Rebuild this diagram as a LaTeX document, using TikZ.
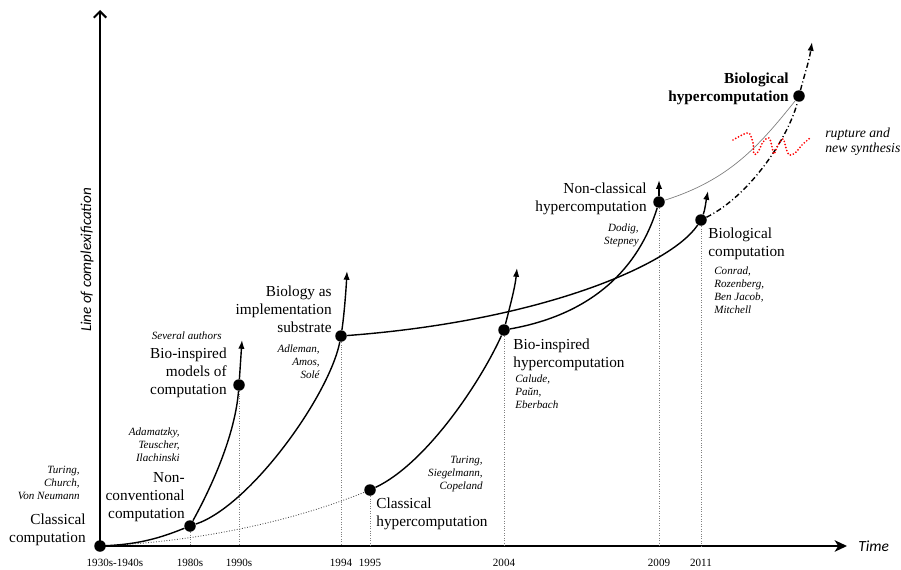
\documentclass[tikz,border=0pt]{standalone}
\usepackage{fontspec}
\setmainfont{Liberation Serif}
\newfontfamily\axisfont{Carlito}
\usetikzlibrary{positioning,arrows.meta}
\tikzset{stagedot/.style={circle,fill=black,inner sep=0pt,minimum size=0.23cm},
 stage/.style={inner sep=0pt,font=\fontsize{8.7}{10.2}\selectfont},
 who/.style={inner sep=0pt,font=\fontsize{6.3}{7.4}\selectfont\itshape},
 year/.style={inner sep=0pt,font=\fontsize{6.3}{7.4}\selectfont},
 path line/.style={line width=0.8pt},
 branch/.style={path line,-{Latex[length=5pt,width=3.6pt]}},
 year line/.style={gray,densely dotted,line width=0.4pt},
 axis/.style={line width=1.2pt}}

\begin{document}
\begin{tikzpicture}[x=0.02cm,y=0.02cm]
\useasboundingbox (0,0) rectangle (901,569);

% axes
\coordinate (O) at (100,23);
\coordinate (xend) at (847,23);
\coordinate (yend) at (100,559);
\draw[axis,-{Stealth[length=7pt,width=6.5pt,inset=2pt]}] (O) -- (xend);
\draw[axis,-{Straight Barb[length=3.5pt,width=7pt]}] (O) -- (yend);
\node[right=2.2mm of xend,inner sep=0pt,font=\axisfont\fontsize{8.8}{10}\selectfont\itshape] (time) {Time};
\node[rotate=90,inner sep=0pt,font=\axisfont\fontsize{8.6}{10}\selectfont\itshape] (cplx) at (87,309) {Line of complexification};

% stages
\node[stagedot] (cc) at (100,23) {};
\node[stagedot] (nc) at (190,43) {};
\node[stagedot] (bm) at (239,184) {};
\node[stagedot] (bi) at (341,233) {};
\node[stagedot] (ch) at (370,79) {};
\node[stagedot] (bh) at (504,239) {};
\node[stagedot] (nh) at (659,367) {};
\node[stagedot] (bc) at (701,349) {};
\node[stagedot] (BH) at (799,473) {};

\coordinate (bmtip) at (242,229);
\coordinate (bitip) at (347,298);
\coordinate (bhtip) at (517,301);
\coordinate (nhtip) at (659,389);
\coordinate (bctip) at (708,378);
\coordinate (BHtip) at (812,527);

% feet on the time axis
\coordinate (t80) at (nc |- O);
\coordinate (t90) at (bm |- O);
\coordinate (t94) at (bi |- O);
\coordinate (t95) at (ch |- O);
\coordinate (t04) at (bh |- O);
\coordinate (t09) at (nh |- O);
\coordinate (t11) at (bc |- O);
\draw[year line] (nc) -- (t80);
\draw[year line] (bm) -- (t90);
\draw[year line] (bi) -- (t94);
\draw[year line] (ch) -- (t95);
\draw[year line] (bh) -- (t04);
\draw[year line] (nh) -- (t09);
\draw[year line] (bc) -- (t11);

\node[year,below=2.6mm of O,xshift=3mm] (y30) {1930s-1940s};
\node[year,below=2.6mm of t80] (y80) {1980s};
\node[year,below=2.6mm of t90] (y90) {1990s};
\node[year,below=2.6mm of t94] (y94) {1994};
\node[year,below=2.6mm of t95] (y95) {1995};
\node[year,below=2.6mm of t04] (y04) {2004};
\node[year,below=2.6mm of t09] (y09) {2009};
\node[year,below=2.6mm of t11] (y11) {2011};

% paths of complexification
\draw[densely dotted,line width=0.5pt,black!70] (cc) .. controls +(100,5) and +(-80,-32) .. (ch);
\draw[path line] (cc) .. controls +(40,2) and +(-30,-12) .. (nc);
\draw[path line] (nc) .. controls +(22,40) and +(-4,-50) .. (bm);
\draw[branch] (bm) -- (bmtip);
\draw[path line] (nc) .. controls +(60,20) and +(-12,-60) .. (bi);
\draw[branch] (bi) .. controls +(3,20) and +(-1,-20) .. (bitip);
\draw[path line] (bi) .. controls +(200,15) and +(-30,-45) .. (bc);
\draw[branch] (bc) .. controls +(4,10) and +(-2,-10) .. (bctip);
\draw[path line] (ch) .. controls +(55,26) and +(-25,-55) .. (bh);
\draw[branch] (bh) .. controls +(5,20) and +(-2,-20) .. (bhtip);
\draw[path line] (bh) .. controls +(90,16) and +(-20,-65) .. (nh);
\draw[branch] (nh) -- (nhtip);
\draw[gray,line width=0.4pt] (nh) .. controls +(70,22) and +(-40,-50) .. (BH);
\draw[branch,dash pattern=on 3pt off 1.5pt on 0.6pt off 1.5pt] (bc) .. controls +(50,25) and +(-10,-40) .. (BH) .. controls +(5,20) and +(-3,-20) .. (BHtip);

% rupture
\draw[red,line width=1.1pt,line cap=round,dash pattern=on 0pt off 1.8pt] plot[smooth,tension=0.6] coordinates {(733,429) (742,434) (749,436) (753,426) (754,415) (758,417) (763,427) (769,431) (772,422) (774,415) (778,424) (783,430) (786,421) (789,414) (795,416) (802,424) (810,431)};

% labels
\node[stage,anchor=north east,align=right] (ccT) at (86,55) {Classical\\computation};
\node[who,anchor=north east,align=right] (ccA) at (80,103) {Turing,\\Church,\\Von Neumann};
\node[stage,anchor=north east,align=right] (ncT) at (185,97) {Non-\\conventional\\computation};
\node[who,anchor=north east,align=right] (ncA) at (180,142) {Adamatzky,\\Teuscher,\\Ilachinski};
\node[stage,anchor=north east,align=right] (bmT) at (227,221) {Bio-inspired\\models of\\computation};
\node[who,anchor=north east] (bmA) at (222,238) {Several authors};
\node[stage,anchor=north east,align=right] (biT) at (332,283) {Biology as\\implementation\\substrate};
\node[who,anchor=north east,align=right] (biA) at (320,225) {Adleman,\\Amos,\\Solé};
\node[stage,anchor=north west,align=left] (chT) at (376,71) {Classical\\hypercomputation};
\node[who,anchor=north east,align=right] (chA) at (483,113) {Turing,\\Siegelmann,\\Copeland};
\node[stage,anchor=north west,align=left] (bhT) at (513,230) {Bio-inspired\\hypercomputation};
\node[who,anchor=north west,align=left] (bhA) at (515,195) {Calude,\\Paŭn,\\Eberbach};
\node[stage,anchor=north east,align=right] (nhT) at (647,386) {Non-classical\\hypercomputation};
\node[who,anchor=north east,align=right] (nhA) at (639,346) {Dodig,\\Stepney};
\node[stage,anchor=north west,align=left] (bcT) at (708,341) {Biological\\computation};
\node[who,anchor=north west,align=left] (bcA) at (714,303) {Conrad,\\Rozenberg,\\Ben Jacob,\\Mitchell};
\node[stage,anchor=north east,align=right,font=\fontsize{8.7}{10.2}\selectfont\bfseries] (BHT) at (789,496) {Biological\\hypercomputation};
\node[who,anchor=north west,align=left,font=\fontsize{7.8}{8.6}\selectfont\itshape] (rup) at (825,441) {rupture and\\new synthesis};
\end{tikzpicture}
\end{document}
